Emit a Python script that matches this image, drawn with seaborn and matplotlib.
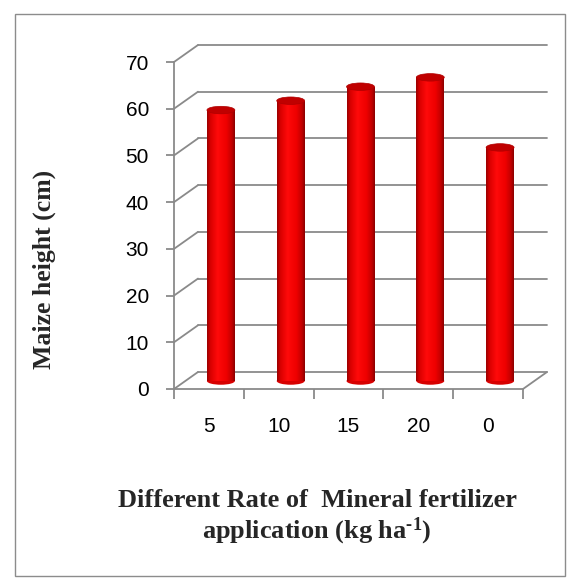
import matplotlib
matplotlib.use("Agg")
import matplotlib.pyplot as plt
import matplotlib.transforms as mtransforms
from matplotlib.patches import Ellipse, Rectangle
from matplotlib.colors import LinearSegmentedColormap
import seaborn as sns
import pandas as pd
import numpy as np

# ---- data ----
categories = ["5", "10", "15", "20", "0"]
heights = [58, 60, 63, 65, 50]
yticks = [0, 10, 20, 30, 40, 50, 60, 70]
xlabel = "Different Rate of  Mineral fertilizer\napplication (kg ha$^{\\text{-1}}$)"
ylabel = "Maize height (cm)"

sns.set_theme(style="white")
plt.rcParams["font.family"] = ["Liberation Sans", "DejaVu Sans"]
plt.rcParams["mathtext.fontset"] = "custom"
plt.rcParams["mathtext.rm"] = "Liberation Serif:bold"
plt.rcParams["mathtext.bf"] = "Liberation Serif:bold"
plt.rcParams["mathtext.it"] = "Liberation Serif:bold"

W, H = 580, 581
fig = plt.figure(figsize=(W / 100, H / 100), dpi=100)
fig.patch.set_facecolor("white")
fig.patches.append(Rectangle((15 / W, 5 / H), 550 / W, 562 / H, transform=fig.transFigure,
                             fill=False, edgecolor="#8c8c8c", linewidth=1.0))

ax = fig.add_axes([174 / W, 192 / H, (523 - 174) / W, (519 - 192) / H])
ax.set_facecolor("none")
df = pd.DataFrame({"rate": categories, "height": heights})
sns.barplot(data=df, x="rate", y="height", color="#FF0000", saturation=1, width=0.4,
            ax=ax, zorder=3)

grid_c = "#8a8a8a"
back = mtransforms.ScaledTranslation(24 / 100, 17 / 100, fig.dpi_scale_trans)
mid = mtransforms.ScaledTranslation(12 / 100, 8 / 100, fig.dpi_scale_trans)
tback = ax.transData + back
tmid = ax.transData + mid

# back-wall gridlines and side diagonals
for v in yticks:
    ax.plot([-0.5, 4.5], [v, v], color=grid_c, lw=1.3, transform=tback, clip_on=False, zorder=1)
    ax.annotate("", xy=(-0.5, v), xytext=(24, 17), textcoords="offset pixels",
                arrowprops=dict(arrowstyle="-", color=grid_c, lw=1.3, shrinkA=0, shrinkB=0),
                annotation_clip=False, zorder=1)
ax.annotate("", xy=(4.5, 0), xytext=(24, 17), textcoords="offset pixels",
            arrowprops=dict(arrowstyle="-", color=grid_c, lw=1.3, shrinkA=0, shrinkB=0),
            annotation_clip=False, zorder=1)

# cylinder shading
cmap = LinearSegmentedColormap.from_list(
    "cyl", [(0, "#9a0000"), (0.12, "#d80000"), (0.38, "#ff0a0a"), (0.7, "#ee0000"),
            (0.9, "#c00000"), (1, "#8a0000")])
grad = np.linspace(0, 1, 200).reshape(1, -1)
eh = 1.6
for p in list(ax.patches):
    x0, w, h = p.get_x(), p.get_width(), p.get_height()
    p.set_transform(tmid)
    p.set_clip_on(False)
    p.set_edgecolor("none")
    im = ax.imshow(grad, cmap=cmap, extent=[x0, x0 + w, 0, h], aspect="auto",
                   transform=tmid, zorder=3.5, interpolation="bilinear")
    im.set_clip_path(p)
    ax.add_patch(Ellipse((x0 + w / 2, 0), w, eh, facecolor="#d80000", edgecolor="none",
                         transform=tmid, zorder=3.2, clip_on=False))
    ax.add_patch(Ellipse((x0 + w / 2, h), w, eh, facecolor="#c00000", edgecolor="#b00000",
                         lw=0.5, transform=tmid, zorder=4, clip_on=False))

ax.set_xlim(-0.5, 4.5)
ax.set_ylim(0, 70)
ax.set_yticks(yticks)
ax.set_xticks(range(len(categories)))
ax.set_xticklabels(categories)
ax.set_xticks(np.arange(-0.5, 5, 1), minor=True)
for s in ["top", "right"]:
    ax.spines[s].set_visible(False)
for s in ["left", "bottom"]:
    ax.spines[s].set_color(grid_c)
    ax.spines[s].set_linewidth(1.3)
ax.tick_params(axis="y", which="major", left=True, length=6, width=1.3, color=grid_c,
               labelsize=15, pad=12, labelcolor="black")
ax.tick_params(axis="x", which="major", bottom=False, length=0, labelsize=15, pad=20,
               labelcolor="black")
ax.tick_params(axis="x", which="minor", bottom=True, length=7, width=1.3, color=grid_c)
ax.set_xlabel("")
ax.set_ylabel("")

fig.text(317 / W, 1 - 518 / H, xlabel, ha="center", va="center", fontsize=19,
         fontweight="bold", family="Liberation Serif", linespacing=1.12, multialignment="center")
fig.text(44 / W, 1 - 269 / H, ylabel, ha="center", va="center", rotation=90, fontsize=18.5,
         fontweight="bold", family="Liberation Serif")

fig.savefig("out.png", dpi=100)
